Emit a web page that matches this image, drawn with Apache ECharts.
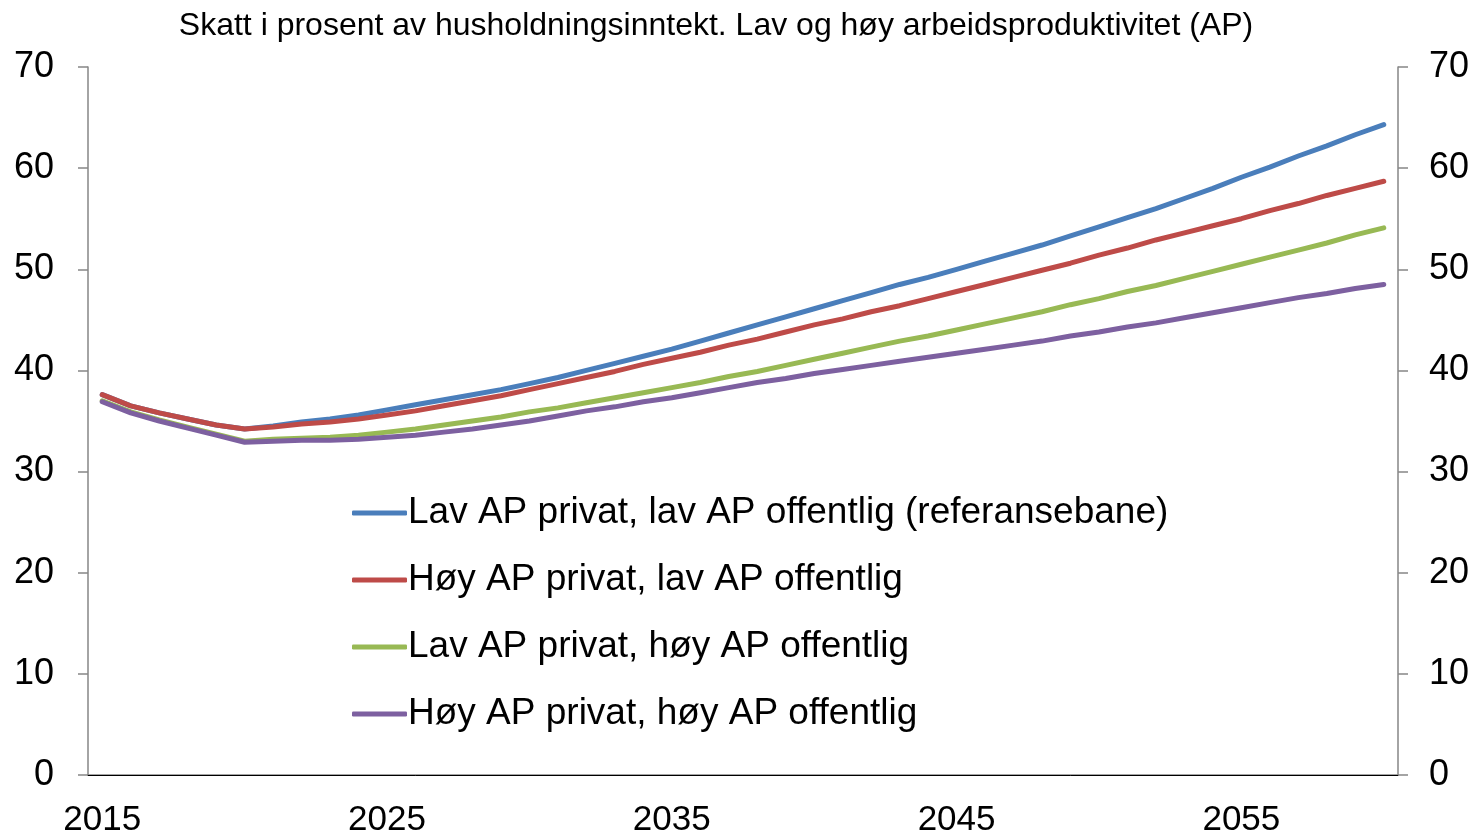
<!DOCTYPE html>
<html>
<head>
<meta charset="utf-8">
<script src="https://cdn.jsdelivr.net/npm/echarts@6/dist/echarts.min.js"></script>
<style>
  html, body { margin: 0; padding: 0; background: #ffffff; }
  #chart { width: 1482px; height: 838px; }
</style>
</head>
<body>
<div id="chart"></div>
<script>
const years = [];
for (let y = 2015; y <= 2060; y++) years.push(String(y));

const seriesNames = [
  "Lav AP privat, lav AP offentlig (referansebane)",
  "Høy AP privat, lav AP offentlig",
  "Lav AP privat, høy AP offentlig",
  "Høy AP privat, høy AP offentlig"
];

const lavLav = [
  37.6, 36.5, 35.8, 35.2, 34.6, 34.2, 34.5, 34.9, 35.2, 35.6,
  36.1, 36.6, 37.1, 37.6, 38.1, 38.7, 39.3, 40.0, 40.7, 41.4,
  42.1, 42.9, 43.7, 44.5, 45.3, 46.1, 46.9, 47.7, 48.5, 49.2,
  50.0, 50.8, 51.6, 52.4, 53.3, 54.2, 55.1, 56.0, 57.0, 58.0,
  59.1, 60.1, 61.2, 62.2, 63.3, 64.3
];
const hoyLav = [
  37.6, 36.5, 35.8, 35.2, 34.6, 34.2, 34.4, 34.7, 34.9, 35.2,
  35.6, 36.0, 36.5, 37.0, 37.5, 38.1, 38.7, 39.3, 39.9, 40.6,
  41.2, 41.8, 42.5, 43.1, 43.8, 44.5, 45.1, 45.8, 46.4, 47.1,
  47.8, 48.5, 49.2, 49.9, 50.6, 51.4, 52.1, 52.9, 53.6, 54.3,
  55.0, 55.8, 56.5, 57.3, 58.0, 58.7
];
const lavHoy = [
  37.0, 35.9, 35.1, 34.4, 33.7, 33.0, 33.2, 33.3, 33.4, 33.6,
  33.9, 34.2, 34.6, 35.0, 35.4, 35.9, 36.3, 36.8, 37.3, 37.8,
  38.3, 38.8, 39.4, 39.9, 40.5, 41.1, 41.7, 42.3, 42.9, 43.4,
  44.0, 44.6, 45.2, 45.8, 46.5, 47.1, 47.8, 48.4, 49.1, 49.8,
  50.5, 51.2, 51.9, 52.6, 53.4, 54.1
];
const hoyHoy = [
  36.9, 35.8, 35.0, 34.3, 33.6, 32.9, 33.0, 33.1, 33.1, 33.2,
  33.4, 33.6, 33.9, 34.2, 34.6, 35.0, 35.5, 36.0, 36.4, 36.9,
  37.3, 37.8, 38.3, 38.8, 39.2, 39.7, 40.1, 40.5, 40.9, 41.3,
  41.7, 42.1, 42.5, 42.9, 43.4, 43.8, 44.3, 44.7, 45.2, 45.7,
  46.2, 46.7, 47.2, 47.6, 48.1, 48.5
];

const colors = ["#4a7ebb", "#be4b48", "#98b954", "#7d60a0"];
const font = "'Liberation Sans', Arial, sans-serif";
const axisGray = "#868686";

const chart = echarts.init(document.getElementById("chart"));

function lineSeries(name, data, color) {
  return {
    name: name,
    type: "line",
    data: data,
    symbol: "none",
    smooth: false,
    lineStyle: { width: 5, color: color, cap: "round", join: "round" },
    itemStyle: { color: color }
  };
}

chart.setOption({
  backgroundColor: "#ffffff",
  animation: false,
  textStyle: { fontFamily: font },
  title: {
    text: "Skatt i prosent av husholdningsinntekt. Lav og høy arbeidsproduktivitet (AP)",
    left: 711,
    textAlign: "center",
    top: 5,
    textStyle: { fontFamily: font, fontSize: 32, fontWeight: "normal", color: "#000" }
  },
  legend: {
    orient: "vertical",
    left: 347,
    top: 488,
    itemGap: 27,
    itemWidth: 55,
    itemHeight: 5,
    icon: "roundRect",
    textStyle: { fontFamily: font, fontSize: 37, color: "#000", lineHeight: 40, padding: [0, 0, 0, -4] },
    data: seriesNames
  },
  grid: { left: 88, right: 84, top: 67, bottom: 62 },
  xAxis: [
    {
      type: "category",
      data: years,
      boundaryGap: true,
      axisLine: { lineStyle: { color: axisGray, width: 1.5 } },
      axisTick: { interval: 9, length: 10, lineStyle: { color: axisGray, width: 1.5 } },
      axisLabel: { interval: 9, margin: 28, fontSize: 35, color: "#000", fontFamily: font }
    },
    {
      type: "category",
      data: years,
      position: "top",
      axisLine: { lineStyle: { color: "#000", width: 1 } },
      axisTick: { show: false },
      axisLabel: { show: false }
    }
  ],
  yAxis: [
    {
      type: "value",
      min: 0,
      max: 70,
      interval: 10,
      position: "left",
      splitLine: { show: false },
      axisLine: { show: true, lineStyle: { color: axisGray, width: 1.5 } },
      axisTick: { show: true, length: 10, lineStyle: { color: axisGray, width: 1.5 } },
      axisLabel: { margin: 34, fontSize: 36, color: "#000", fontFamily: font }
    },
    {
      type: "value",
      min: 0,
      max: 70,
      interval: 10,
      position: "right",
      splitLine: { show: false },
      axisLine: { show: true, lineStyle: { color: axisGray, width: 1.5 } },
      axisTick: { show: true, length: 10, lineStyle: { color: axisGray, width: 1.5 } },
      axisLabel: { margin: 31, fontSize: 36, color: "#000", fontFamily: font }
    }
  ],
  series: [
    lineSeries(seriesNames[0], lavLav, colors[0]),
    lineSeries(seriesNames[1], hoyLav, colors[1]),
    lineSeries(seriesNames[2], lavHoy, colors[2]),
    lineSeries(seriesNames[3], hoyHoy, colors[3])
  ]
});
</script>
</body>
</html>
